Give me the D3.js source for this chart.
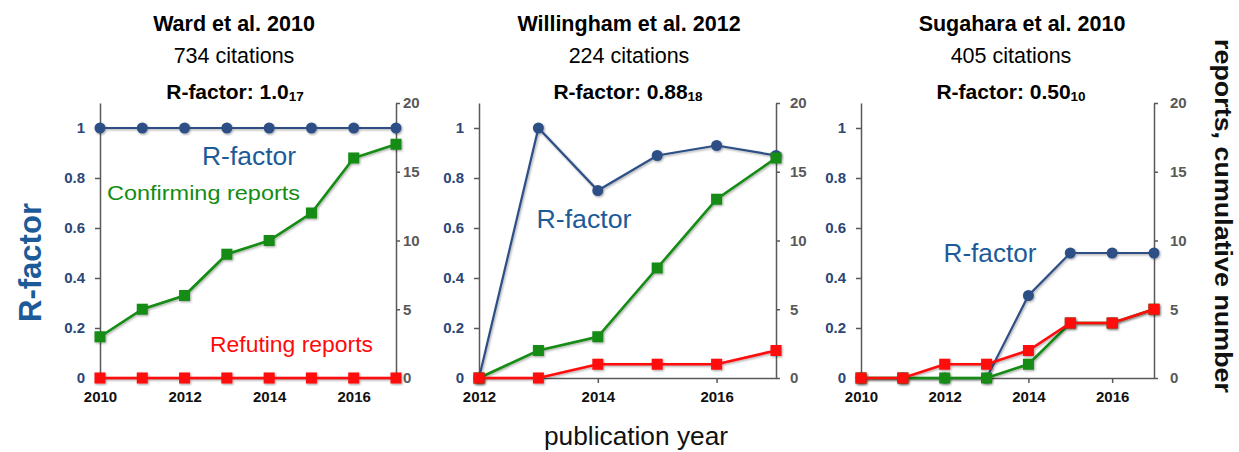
<meta charset='utf-8'>
<script src="https://d3js.org/d3.v7.min.js"></script>
<style>
body { margin: 0; background: #fff; }
text { font-family: 'Liberation Sans', Arial, sans-serif; }
</style>
<body></body>
<script>

// DATA
var titles = ['Ward et al. 2010', 'Willingham et al. 2012', 'Sugahara et al. 2010'];
var citations = [734, 224, 405];
var rScores = ['1.0', '0.88', '0.50'];
var rCounts = [17, 18, 10];
var years = [
    [2010, 2011, 2012, 2013, 2014, 2015, 2016, 2017],
    [2012, 2013, 2014, 2015, 2016, 2017],
    [2010, 2011, 2012, 2013, 2014, 2015, 2016, 2017]
];
var rfactor = [
    [1, 1, 1, 1, 1, 1, 1, 1],
    [0, 1, 0.75, 0.89, 0.93, 0.89],
    [0, 0, 0, 0, 0.33, 0.5, 0.5, 0.5]
];
var confirming = [
    [3, 5, 6, 9, 10, 12, 16, 17],
    [0, 2, 3, 8, 13, 16],
    [0, 0, 0, 0, 1, 4, 4, 5]
];
var refuting = [
    [0, 0, 0, 0, 0, 0, 0, 0],
    [0, 0, 1, 1, 1, 2],
    [0, 0, 1, 1, 2, 4, 4, 5]
];
var yearTicks = [
    [2010, 2012, 2014, 2016],
    [2012, 2014, 2016],
    [2010, 2012, 2014, 2016]
];
var leftTicks = [0, 0.2, 0.4, 0.6, 0.8, 1];
var rightTicks = [0, 5, 10, 15, 20];

// INITIAL SETTINGS
var ww = 1239;
var wh = 452;
var ytop = 103;
var ybot = 378;
var blue = '#2d4f85';
var blueText = '#1d5b98';
var green = '#138c13';
var red = '#ff0a0a';
var gray = '#595959';

var panels = [
    {x0: 100, x1: 396, tx: 234, cx: 234, sx: 235, rpad: 3, lab: [249, 165, 94]},
    {x0: 479, x1: 776, tx: 629, cx: 629, sx: 628, rpad: 10, lab: [584, 228, 95]},
    {x0: 861, x1: 1154, tx: 1022, cx: 1011, sx: 1011, rpad: 12, lab: [990, 262, 93]}
];

var svg = d3.select('body').append('svg')
    .attr('width', ww)
    .attr('height', wh);

var defs = svg.append('defs');
defs.append('filter')
    .attr('id', 'sh')
    .attr('x', '-20%').attr('y', '-20%')
    .attr('width', '140%').attr('height', '140%')
    .append('feDropShadow')
    .attr('dx', 1).attr('dy', 1.2)
    .attr('stdDeviation', 0.9)
    .attr('flood-opacity', 0.35);

var yL = d3.scaleLinear().domain([0, 1.1]).range([ybot, ytop]);
var yR = d3.scaleLinear().domain([0, 20]).range([ybot, ytop]);

// PANELS
panels.forEach(function (p, i) {
    var g = svg.append('g');
    var x = d3.scaleLinear().domain([years[i][0], years[i][years[i].length - 1]]).range([p.x0, p.x1]);

    // headers
    g.append('text')
        .attr('x', p.tx).attr('y', 31)
        .attr('text-anchor', 'middle')
        .attr('font-size', 21.5)
        .attr('font-weight', 'bold')
        .text(titles[i]);
    g.append('text')
        .attr('x', p.cx).attr('y', 63)
        .attr('text-anchor', 'middle')
        .attr('font-size', 21.5)
        .text(citations[i] + ' citations');
    var sub = g.append('text')
        .attr('x', p.sx).attr('y', 99)
        .attr('text-anchor', 'middle')
        .attr('font-size', 21)
        .attr('font-weight', 'bold');
    sub.append('tspan').text('R-factor: ' + rScores[i]);
    sub.append('tspan')
        .attr('font-size', 13.5)
        .attr('dy', 1.5)
        .text(rCounts[i]);

    // axes
    var ax = g.append('g').attr('transform', 'translate(' + p.x0 + ',0)')
        .call(d3.axisLeft(yL).tickValues(leftTicks)
            .tickFormat(function (d) { return d === 0 || d === 1 ? d : d3.format('.1f')(d); })
            .tickSize(5).tickSizeOuter(0).tickPadding(10));
    ax.selectAll('path, line').attr('stroke', gray).attr('stroke-width', 1.5);
    ax.selectAll('text')
        .attr('fill', '#2c4678')
        .attr('font-size', 15)
        .attr('font-weight', 'bold')
        .attr('font-family', null);

    var axr = g.append('g').attr('transform', 'translate(' + p.x1 + ',0)')
        .call(d3.axisRight(yR).tickValues(rightTicks)
            .tickSize(4).tickSizeOuter(0).tickPadding(p.rpad));
    axr.selectAll('path, line').attr('stroke', gray).attr('stroke-width', 1.5);
    axr.selectAll('text')
        .attr('fill', gray)
        .attr('font-size', 15)
        .attr('font-weight', 'bold')
        .attr('font-family', null);

    var axb = g.append('g').attr('transform', 'translate(0,' + ybot + ')')
        .call(d3.axisBottom(x).tickValues(yearTicks[i])
            .tickFormat(d3.format('d'))
            .tickSize(5).tickSizeOuter(0).tickPadding(8));
    axb.selectAll('path, line').attr('stroke', gray).attr('stroke-width', 1.5);
    axb.selectAll('text')
        .attr('fill', '#111')
        .attr('font-size', 15)
        .attr('font-weight', 'bold')
        .attr('font-family', null);
    svg.selectAll('.domain').attr('fill', 'none');

    // series
    var pts = years[i].map(function (yr, j) {
        return {yr: yr, rf: rfactor[i][j], c: confirming[i][j], r: refuting[i][j]};
    });
    var series = [
        {key: 'rf', y: yL, color: blue, w: 2.2, shape: 'circle'},
        {key: 'c', y: yR, color: green, w: 2.6, shape: 'square'},
        {key: 'r', y: yR, color: red, w: 2.6, shape: 'square'}
    ];
    series.forEach(function (s) {
        var sg = g.append('g').attr('filter', 'url(#sh)');
        sg.append('path')
            .datum(pts)
            .attr('fill', 'none')
            .attr('stroke', s.color)
            .attr('stroke-width', s.w)
            .attr('d', d3.line()
                .x(function (d) { return x(d.yr); })
                .y(function (d) { return s.y(d[s.key]); }));
        if (s.shape === 'circle') {
            sg.selectAll('circle').data(pts).enter().append('circle')
                .attr('cx', function (d) { return x(d.yr); })
                .attr('cy', function (d) { return s.y(d[s.key]); })
                .attr('r', 5.5)
                .attr('fill', s.color);
        } else {
            sg.selectAll('rect').data(pts).enter().append('rect')
                .attr('x', function (d) { return x(d.yr) - 5.5; })
                .attr('y', function (d) { return s.y(d[s.key]) - 5.5; })
                .attr('width', 11)
                .attr('height', 11)
                .attr('fill', s.color);
        }
    });

    // series label
    g.append('text')
        .attr('x', p.lab[0]).attr('y', p.lab[1])
        .attr('text-anchor', 'middle')
        .attr('font-size', 25)
        .attr('fill', blueText)
        .attr('textLength', p.lab[2])
        .attr('lengthAdjust', 'spacingAndGlyphs')
        .text('R-factor');
});

// FIRST PANEL NOTES
svg.append('text')
    .attr('x', 107).attr('y', 200)
    .attr('font-size', 21)
    .attr('fill', green)
    .attr('textLength', 193)
    .attr('lengthAdjust', 'spacingAndGlyphs')
    .text('Confirming reports');
svg.append('text')
    .attr('x', 210).attr('y', 352)
    .attr('font-size', 22)
    .attr('fill', red)
    .attr('textLength', 163)
    .attr('lengthAdjust', 'spacingAndGlyphs')
    .text('Refuting reports');

// AXIS TITLES
svg.append('text')
    .attr('transform', 'translate(41,262.5) rotate(-90)')
    .attr('text-anchor', 'middle')
    .attr('font-size', 31)
    .attr('font-weight', 'bold')
    .attr('fill', blueText)
    .attr('textLength', 119)
    .attr('lengthAdjust', 'spacingAndGlyphs')
    .text('R-factor');
svg.append('text')
    .attr('transform', 'translate(1215,216) rotate(90)')
    .attr('text-anchor', 'middle')
    .attr('font-size', 24)
    .attr('font-weight', 'bold')
    .attr('fill', '#111')
    .attr('textLength', 354)
    .attr('lengthAdjust', 'spacingAndGlyphs')
    .text('reports, cumulative number');
svg.append('text')
    .attr('x', 636).attr('y', 445)
    .attr('text-anchor', 'middle')
    .attr('font-size', 25)
    .attr('fill', '#111')
    .attr('textLength', 184)
    .attr('lengthAdjust', 'spacingAndGlyphs')
    .text('publication year');

</script>
